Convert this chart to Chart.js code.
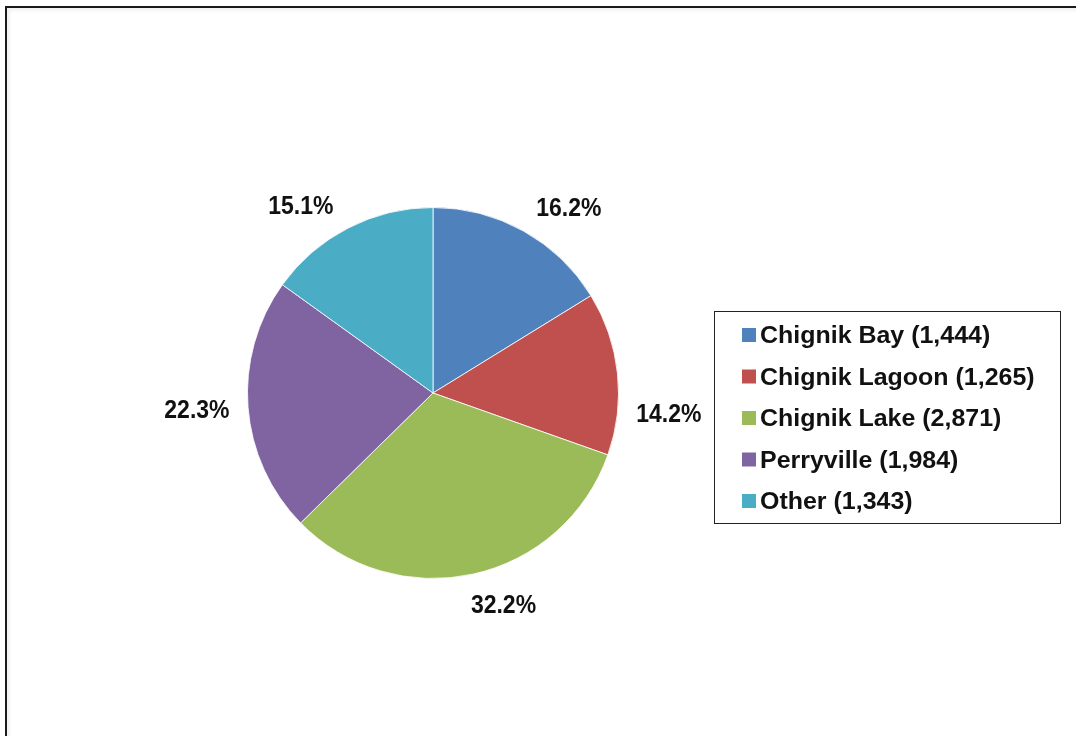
<!DOCTYPE html>
<html>
<head>
<meta charset="utf-8">
<title>Chignik residents</title>
<script src="https://cdn.jsdelivr.net/npm/chart.js@4.4.0/dist/chart.umd.min.js"></script>
<style>
  html, body { margin: 0; padding: 0; background: #fff; }
  #wrap { position: relative; width: 1076px; height: 736px; overflow: hidden; }
  #frame {
    position: absolute; left: 5px; top: 6px; right: -4px; bottom: -4px;
    border-top: 2px solid #1a1a1a; border-left: 2px solid #1a1a1a;
    box-shadow: inset 3px 3px 3px rgba(0,0,0,0.05);
  }
  canvas { position: absolute; left: 0; top: 0; }
</style>
</head>
<body>
<div id="wrap">
  <div id="frame"></div>
  <canvas id="pie" width="1076" height="736"></canvas>
</div>
<script>
const places = ['Chignik Bay', 'Chignik Lagoon', 'Chignik Lake', 'Perryville', 'Other'];
const residents = [1444, 1265, 2871, 1984, 1343];
const sliceColors = ['#4F81BD', '#C0504D', '#9BBB59', '#8064A2', '#4BACC6'];

const FONT = "'Liberation Sans', Arial, sans-serif";
const total = residents.reduce((a, b) => a + b, 0);

// percent labels outside each slice, nudged a little like Excel's best-fit
const pctLabels = {
  id: 'pctLabels',
  afterDatasetsDraw(chart, args, opts) {
    const ctx = chart.ctx;
    const meta = chart.getDatasetMeta(0);
    const size = opts.size, sx = opts.squeeze;
    const cap = size * 0.716;
    ctx.save();
    ctx.font = 'bold ' + size + 'px ' + FONT;
    ctx.fillStyle = '#111';
    ctx.textAlign = 'center';
    ctx.textBaseline = 'alphabetic';
    meta.data.forEach((arc, i) => {
      const txt = (residents[i] / total * 100).toFixed(1) + '%';
      const mid = (arc.startAngle + arc.endAngle) / 2 + (opts.shift[i] || 0) * Math.PI / 180;
      const ux = Math.cos(mid), uy = Math.sin(mid);
      const w = ctx.measureText(txt).width * sx;
      const d = arc.outerRadius + opts.pad + Math.abs(ux) * w / 2 + Math.abs(uy) * cap / 2;
      const cx = arc.x + ux * d, cy = arc.y + uy * d;
      ctx.save();
      ctx.translate(cx, cy + cap / 2);
      ctx.scale(sx, 1);
      ctx.fillText(txt, 0, 0);
      ctx.restore();
    });
    ctx.restore();
  }
};

// boxed legend to the right of the pie
const boxLegend = {
  id: 'boxLegend',
  afterDraw(chart, args, opts) {
    const ctx = chart.ctx;
    const { x, y, w, h, rowGap, first } = opts;
    ctx.save();
    ctx.fillStyle = '#fff';
    ctx.fillRect(x, y, w, h);
    ctx.strokeStyle = '#222';
    ctx.lineWidth = 1;
    ctx.strokeRect(x + 0.5, y + 0.5, w, h);
    ctx.font = 'bold 24px ' + FONT;
    ctx.textBaseline = 'alphabetic';
    places.forEach((name, i) => {
      const cy = y + first + i * rowGap;
      ctx.fillStyle = sliceColors[i];
      ctx.fillRect(x + 28, cy - 7, 14, 14);
      ctx.fillStyle = '#111';
      ctx.save();
      ctx.translate(x + 46, cy + 8.4);
      ctx.scale(1.04, 1);
      ctx.fillText(name + ' (' + residents[i].toLocaleString('en-US') + ')', 0, 0);
      ctx.restore();
    });
    ctx.restore();
  }
};

new Chart(document.getElementById('pie'), {
  type: 'pie',
  data: {
    labels: places,
    datasets: [{
      data: residents,
      backgroundColor: sliceColors,
      borderColor: 'rgba(255,255,255,0.8)',
      borderWidth: 1
    }]
  },
  options: {
    responsive: false,
    animation: false,
    layout: { padding: { left: 247, right: 457, top: 207, bottom: 157 } },
    plugins: {
      legend: { display: false },
      tooltip: { enabled: false },
      pctLabels: { size: 25, squeeze: 0.92, pad: 18, shift: [7, 11, -6, 0.5, -8] },
      boxLegend: { x: 714, y: 311, w: 346, h: 212, rowGap: 41.5, first: 24 }
    }
  },
  plugins: [pctLabels, boxLegend]
});
</script>
</body>
</html>
